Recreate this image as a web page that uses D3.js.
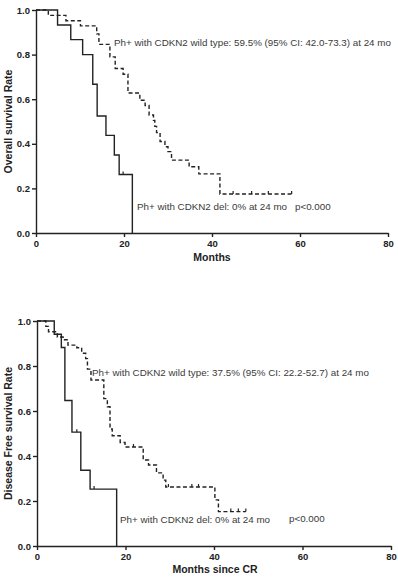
<!DOCTYPE html>
<html>
<head>
<meta charset="utf-8">
<script src="https://cdn.jsdelivr.net/npm/d3@7"></script>
<style>
  html, body { margin: 0; padding: 0; background: #fff; }
  svg { display: block; font-family: Arial, "Liberation Sans", sans-serif; }
  .axis path, .axis line { stroke: #222; stroke-width: 1.4; }
  .axis text { font-size: 9.5px; font-weight: bold; fill: #222; }
  .axis-label { font-size: 10.5px; font-weight: bold; fill: #222; }
  .note { font-size: 9.8px; fill: #3a3a3a; }
</style>
</head>
<body>
<div id="chart"></div>
<script>
// Kaplan-Meier step data (months, survival fraction)
const osDelTimes  = [0, 4.9, 7.9, 10.6, 12.9, 13.9, 15.9, 17.8, 18.9, 21.9];
const osDelSurv   = [1.0, 0.933, 0.867, 0.80, 0.667, 0.525, 0.438, 0.350, 0.262, 0];
const osDelCensor = [19.8];

const osWildTimes  = [0, 2.8, 6.8, 10.1, 13.8, 14.3, 16.8, 18.0, 19.8, 20.9, 23.6, 24.8, 25.7, 26.7, 27.0, 27.4, 28.2, 29.3, 30.0, 30.8, 34.8, 37.0, 41.8, 58.1];
const osWildSurv   = [1.0, 0.976, 0.952, 0.929, 0.893, 0.846, 0.790, 0.738, 0.712, 0.628, 0.595, 0.572, 0.529, 0.505, 0.478, 0.450, 0.410, 0.387, 0.365, 0.327, 0.297, 0.265, 0.175, 0.175];
const osWildCensor = [44.8, 49.0, 52.8, 58.1];

const dfsDelTimes  = [0, 3.9, 5.5, 6.3, 7.9, 9.9, 12.0, 18.0];
const dfsDelSurv   = [1.0, 0.941, 0.882, 0.647, 0.506, 0.337, 0.253, 0];
const dfsDelCensor = [9.0, 12.9];

const dfsWildTimes  = [0, 2.0, 2.6, 4.6, 5.9, 7.0, 9.0, 10.1, 11.0, 11.4, 12.2, 15.1, 15.9, 16.5, 17.0, 18.8, 19.9, 24.0, 25.2, 27.0, 28.5, 29.1, 40.2, 41.0, 47.2];
const dfsWildSurv   = [1.0, 0.976, 0.952, 0.929, 0.917, 0.893, 0.881, 0.857, 0.833, 0.786, 0.738, 0.655, 0.619, 0.520, 0.490, 0.460, 0.440, 0.382, 0.360, 0.325, 0.293, 0.262, 0.205, 0.153, 0.153];
const dfsWildCensor = [21.8, 29.7, 35.0, 36.5, 43.8, 45.5, 47.2];

const xTicks = [0, 20, 40, 60, 80];
const yTicks = [0, 0.2, 0.4, 0.6, 0.8, 1.0];

const W = 398, H = 577;
const svg = d3.select("#chart").append("svg").attr("width", W).attr("height", H);

function stepSeries(times, surv) {
  return times.map((t, i) => ({ t, s: surv[i] }));
}

// value of a KM curve at time t (for censor ticks)
function survAt(times, surv, t) {
  let v = surv[0];
  times.forEach((tt, i) => { if (tt <= t) v = surv[i]; });
  return v;
}

function drawPanel(p) {
  const x = d3.scaleLinear().domain([0, 80]).range([p.x0, p.x1]);
  const y = d3.scaleLinear().domain([0, 1]).range([p.y0, p.y1]);
  const g = svg.append("g");

  g.append("g").attr("class", "axis").attr("transform", `translate(0,${p.y0})`)
    .call(d3.axisBottom(x).tickValues(xTicks).tickSize(4).tickSizeOuter(0).tickPadding(3));
  g.append("g").attr("class", "axis").attr("transform", `translate(${p.x0},0)`)
    .call(d3.axisLeft(y).tickValues(yTicks).tickFormat(d3.format(".1f")).tickSize(4).tickSizeOuter(0).tickPadding(2));

  const line = d3.line().curve(d3.curveStepAfter).x(d => x(d.t)).y(d => y(d.s));

  [
    { times: p.delT, surv: p.delS, cens: p.delC, dash: null },
    { times: p.wildT, surv: p.wildS, cens: p.wildC, dash: "4,2.5" }
  ].forEach(c => {
    g.append("path").datum(stepSeries(c.times, c.surv))
      .attr("fill", "none").attr("stroke", "#222").attr("stroke-width", 1.4)
      .attr("stroke-dasharray", c.dash).attr("d", line);
    g.selectAll(null).data(c.cens).join("line")
      .attr("x1", d => x(d)).attr("x2", d => x(d))
      .attr("y1", d => y(survAt(c.times, c.surv, d)))
      .attr("y2", d => y(survAt(c.times, c.surv, d)) - 3)
      .attr("stroke", "#222").attr("stroke-width", 1.2);
  });

  g.append("text").attr("class", "axis-label").attr("text-anchor", "middle")
    .attr("x", p.xLabelX).attr("y", p.xLabelY).text(p.xLabel);
  g.append("text").attr("class", "axis-label").attr("text-anchor", "middle")
    .attr("transform", `translate(12,${(p.y0 + p.y1) / 2}) rotate(-90)`).text(p.yLabel);

  g.append("text").attr("class", "note").attr("x", p.wildNote[0]).attr("y", p.wildNote[1])
    .attr("dominant-baseline", "middle").text(p.wildText);
  g.append("text").attr("class", "note").attr("x", p.delNote[0]).attr("y", p.delNote[1])
    .attr("dominant-baseline", "middle").text("Ph+ with CDKN2 del: 0% at 24 mo");
  g.append("text").attr("class", "note").attr("x", p.pNote[0]).attr("y", p.pNote[1])
    .attr("dominant-baseline", "middle").text("p<0.000");
}

drawPanel({
  x0: 36, x1: 388, y0: 233, y1: 10,
  delT: osDelTimes, delS: osDelSurv, delC: osDelCensor,
  wildT: osWildTimes, wildS: osWildSurv, wildC: osWildCensor,
  xLabel: "Months", xLabelX: 212, xLabelY: 261,
  yLabel: "Overall survival Rate",
  wildText: "Ph+ with CDKN2 wild type: 59.5% (95% CI: 42.0-73.3) at 24 mo",
  wildNote: [114, 43], delNote: [137, 207], pNote: [295, 207]
});

drawPanel({
  x0: 37, x1: 391, y0: 546, y1: 321,
  delT: dfsDelTimes, delS: dfsDelSurv, delC: dfsDelCensor,
  wildT: dfsWildTimes, wildS: dfsWildSurv, wildC: dfsWildCensor,
  xLabel: "Months since CR", xLabelX: 215, xLabelY: 573,
  yLabel: "Disease Free survival Rate",
  wildText: "Ph+ with CDKN2 wild type: 37.5% (95% CI: 22.2-52.7) at 24 mo",
  wildNote: [92, 373], delNote: [120, 520], pNote: [289, 519]
});
</script>
</body>
</html>
